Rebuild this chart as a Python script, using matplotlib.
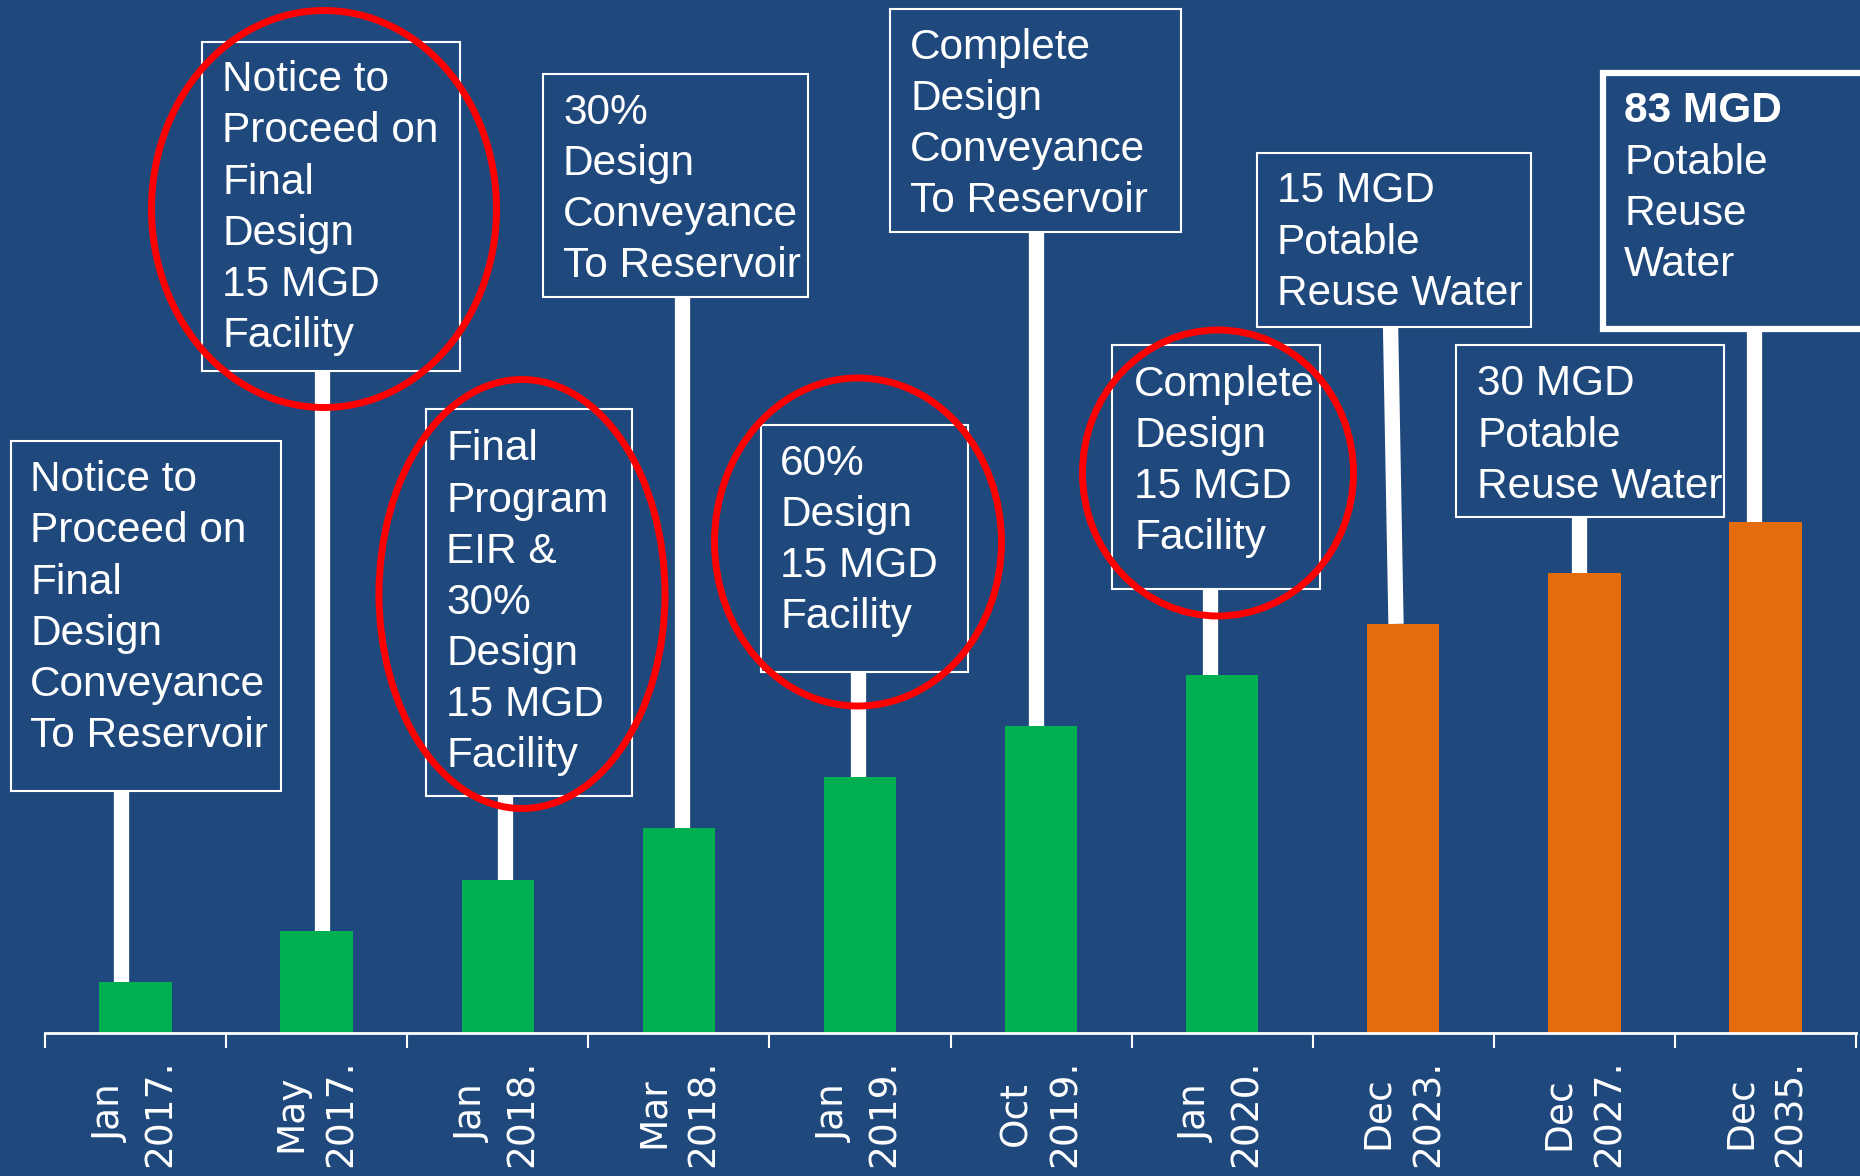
import matplotlib
matplotlib.use("Agg")
from matplotlib import pyplot as plt
from matplotlib.patches import Rectangle, Ellipse
import numpy as np

# data
months = ["Jan", "May", "Jan", "Mar", "Jan", "Oct", "Jan", "Dec", "Dec", "Dec"]
years = ["2017.", "2017.", "2018.", "2018.", "2019.", "2019.", "2020.", "2023.", "2027.", "2035."]
steps = [1, 2, 3, 4, 5, 6, 7, 8, 9, 10]
done = [True, True, True, True, True, True, True, False, False, False]
notes = [
    "Notice to\nProceed on\nFinal\nDesign\nConveyance\nTo Reservoir",
    "Notice to\nProceed on\nFinal\nDesign\n15 MGD\nFacility",
    "Final\nProgram\nEIR &\n30%\nDesign\n15 MGD\nFacility",
    "30%\nDesign\nConveyance\nTo Reservoir",
    "60%\nDesign\n15 MGD\nFacility",
    "Complete\nDesign\nConveyance\nTo Reservoir",
    "Complete\nDesign\n15 MGD\nFacility",
    "15 MGD\nPotable\nReuse Water",
    "30 MGD\nPotable\nReuse Water",
    "Potable\nReuse\nWater",
]
last_head = "83 MGD"

bg = "#1F497D"
green = "#00B050"
orange = "#E46C0A"
W, H = 1860, 1176
pitch = 51.4  # px between lines in the note boxes

# layout in pixels (left, top, right, bottom) of each label box
boxes = [(11, 441, 281, 791), (202, 42, 460, 371), (426, 409, 632, 796),
         (543, 74, 808, 297), (761, 425, 968, 672), (890, 9, 1181, 232),
         (1112, 345, 1320, 589), (1257, 153, 1531, 327), (1456, 345, 1724, 517),
         (1603, 73, 1880, 329)]
text_pos = [(30, 477), (222, 77), (446, 446), (563, 110), (780, 461),
            (910, 45), (1134, 382), (1277, 189), (1477, 382), (1624, 109)]
stem_dx = [-0.08, 0.03, 0.04, 0.02, -0.01, -0.03, -0.065, -0.04, -0.03, -0.065]
rings = [(324, 209, 345, 397), (522, 594, 286, 429), (858, 542, 287, 328), (1218, 473, 271, 286)]


def fx(x):
    return x / W


def fy(y):
    return 1 - y / H


fig = plt.figure(figsize=(W / 100, H / 100), dpi=100, facecolor=bg)
ax = fig.add_axes([fx(45), fy(1033), (1856 - 45) / W, 1033 / H])
ax.set_facecolor("none")

x = np.arange(1, len(steps) + 1)
colors = [green if d else orange for d in done]
ax.bar(x, steps, width=0.4, color=colors, zorder=2)
ax.set_xlim(0.5, len(steps) + 0.5)
ax.set_ylim(0, 20.2)

for s in ["top", "left", "right"]:
    ax.spines[s].set_visible(False)
ax.spines["bottom"].set_color("white")
ax.spines["bottom"].set_linewidth(2)
ax.set_yticks([])
ax.set_xticks(x)
ax.set_xticklabels([m + "\n" + y for m, y in zip(months, years)], rotation=90,
                   fontsize=27, color="white", linespacing=1.5)
ax.set_xticks(np.arange(0.5, len(steps) + 1), minor=True)
ax.tick_params(axis="x", which="major", length=0, pad=19)
ax.tick_params(axis="x", which="minor", length=11, width=1.5, color="white")

fig.canvas.draw()
inv = ax.transData.inverted()

for i in range(len(steps)):
    l, t, r, b = boxes[i]
    lw = 4.5 if i == len(steps) - 1 else 1.5
    fig.patches.append(Rectangle((fx(l), fy(b)), (r - l) / W, (b - t) / H,
                                 transform=fig.transFigure, facecolor=bg,
                                 edgecolor="white", lw=lw, zorder=3))
    yb = inv.transform((0, H - b))[1]
    xs = x[i] + stem_dx[i]
    x_top = xs - 0.03 if i == 7 else xs
    ax.plot([xs, x_top], [steps[i], yb], color="white", lw=11,
            solid_capstyle="butt", clip_on=False, zorder=1)
    tx, ty = text_pos[i]
    base = ty + 13
    if i == len(steps) - 1:
        fig.text(fx(tx), fy(base), last_head, fontsize=30.5, fontweight="bold",
                 family="Liberation Sans", color="white", va="baseline", zorder=4)
        base += pitch
    n = notes[i].count("\n")
    # multiline baseline alignment uses the last line
    fig.text(fx(tx), fy(base + n * pitch), notes[i], fontsize=30.5, family="Liberation Sans",
             color="white", va="baseline", ha="left", linespacing=1.36, zorder=4)

for cx, cy, w, h in rings:
    fig.patches.append(Ellipse((fx(cx), fy(cy)), w / W, h / H, transform=fig.transFigure,
                               facecolor="none", edgecolor="#FF0000", lw=5, zorder=5))

fig.savefig("out.png", dpi=100, facecolor=bg)
